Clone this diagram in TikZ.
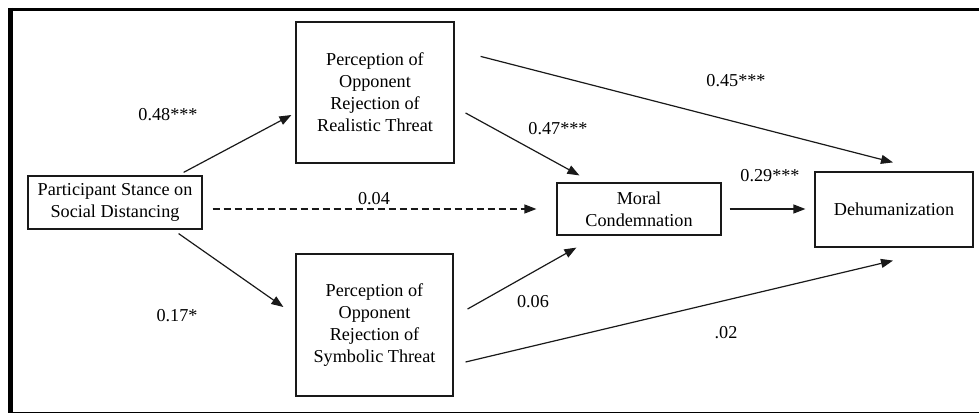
\documentclass[tikz,border=0pt]{standalone}
\usepackage{fontspec}
\setmainfont{Liberation Serif}
\usetikzlibrary{arrows.meta}
\tikzset{
  boxnode/.style={draw=black!90, line width=1.2pt, align=center, inner sep=0pt,
    font=\fontsize{18.2}{22}\selectfont},
  lbl/.style={inner sep=0pt, font=\fontsize{18.2}{22}\selectfont},
  arr/.style={line width=1.2pt, draw=black!90, -{Triangle[length=12pt,width=9pt]}},
  dasharr/.style={arr, dash pattern=on 7pt off 4pt},
}
\begin{document}
\begin{tikzpicture}[x=1pt, y=-1pt]
\useasboundingbox (0,0) rectangle (979,414);
% frame
\draw[line width=3pt] (8,9.5) -- (979,9.5);
\draw[line width=4.5pt] (10.5,8) -- (10.5,413);
\draw[line width=1pt] (10,412.5) -- (979,412.5);
% nodes
\node[boxnode, minimum width=174pt, minimum height=53pt] (part) at (115,202.5) {Participant Stance on\\Social Distancing};
\node[boxnode, minimum width=158pt, minimum height=141pt] (real) at (375,92.5) {Perception of\\Opponent\\Rejection of\\Realistic Threat};
\node[boxnode, minimum width=157pt, minimum height=142pt] (symb) at (374.5,325) {Perception of\\Opponent\\Rejection of\\Symbolic Threat};
\node[boxnode, minimum width=164pt, minimum height=52pt] (moral) at (639,209) {Moral\\Condemnation};
\node[boxnode, minimum width=158pt, minimum height=75pt] (dehum) at (894,209.5) {Dehumanization};
% connectors
\draw[arr] ([shift={(-19,-3)}]part.north east) -- ([shift={(-4,22.5)}]real.west);
\draw[arr] ([shift={(-24,4)}]part.south east) -- ([shift={(-12,-18)}]symb.west);
\draw[dasharr] ([shift={(10,6.5)}]part.east) -- ([shift={(-20,0)}]moral.west);
\draw[arr] ([shift={(8,0)}]moral.east) -- ([shift={(-9,-0.5)}]dehum.west);
\draw[arr] ([shift={(11,20.5)}]real.east) -- ([shift={(23,-7)}]moral.north west);
\draw[arr] ([shift={(26,35)}]real.north east) -- ([shift={(-1,-9)}]dehum.north);
\draw[arr] ([shift={(14,-16)}]symb.east) -- ([shift={(20,12)}]moral.south west);
\draw[arr] ([shift={(12,37)}]symb.east) -- ([shift={(-1,13)}]dehum.south);
% labels
\node[lbl] (l1) at (168,115) {0.48***};
\node[lbl] (l2) at (374,199) {0.04};
\node[lbl] (l3) at (558,129) {0.47***};
\node[lbl] (l4) at (736,81) {0.45***};
\node[lbl] (l5) at (770,176) {0.29***};
\node[lbl] (l6) at (533,302) {0.06};
\node[lbl] (l7) at (726,333) {.02};
\node[lbl] (l8) at (177,316) {0.17*};
\end{tikzpicture}
\end{document}
